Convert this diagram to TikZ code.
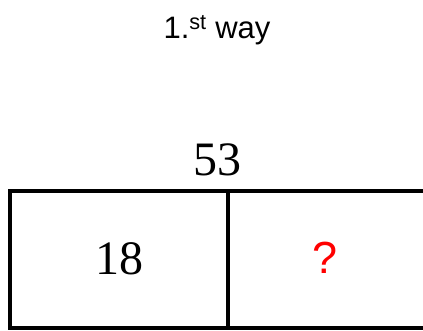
\documentclass[tikz,border=0pt]{standalone}
\usepackage{fontspec}
\setmainfont{Liberation Serif}
\newfontfamily\arialfont{Liberation Sans}
\usepackage{xcolor}

\begin{document}
\begin{tikzpicture}[x=1pt, y=1pt,
  cell/.style={draw, line width=4pt, minimum height=137.5pt, inner sep=0pt, outer sep=0pt, font=\fontsize{48}{52}\selectfont},
  num/.style={font=\fontsize{48}{52}\selectfont, inner sep=0pt}]
  \useasboundingbox (0,0) rectangle (423,-330);
  \node[font=\arialfont\fontsize{31}{35}\selectfont] (title) at (217,-30) {1.\textsuperscript{st} way};
  \node[num] (total) at (217,-160) {53};
  \node[cell, minimum width=218pt] (left) at (119,-259.25) {18};
  \node[cell, minimum width=212pt, anchor=west] (right) at (left.east) {};
  \node[num, font=\arialfont\fontsize{45}{49}\selectfont, text=red] (unknown) at (325,-258) {?};
\end{tikzpicture}
\end{document}
